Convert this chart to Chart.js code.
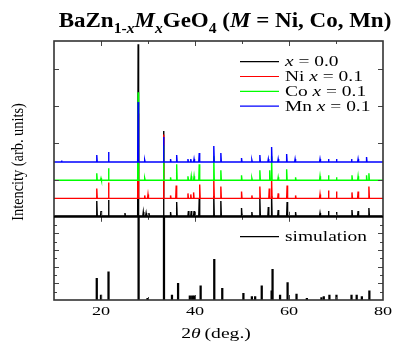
<!DOCTYPE html>
<html>
<head>
<meta charset="utf-8">
<script src="https://cdn.jsdelivr.net/npm/chart.js@4"></script>
<style>
  html, body { margin: 0; padding: 0; background: #fff; }
  #wrap { width: 393px; height: 342px; }
</style>
</head>
<body>
<div id="wrap"><canvas id="chart" width="393" height="342"></canvas></div>
<script>
// peaks: [2θ (deg.), height above the trace's own baseline], arb. units
const peaksBlack = [
  [19.1, 15], [20.0, 5], [21.6, 16], [25.1, 3], [27.9, 172], [29.0, 4], [29.6, 3], [30.2, 3],
  [33.3, 85], [34.8, 4], [36.1, 14], [38.6, 5], [39.2, 5], [39.8, 5], [40.9, 17], [44.0, 20],
  [45.5, 15], [49.9, 8], [52.1, 4], [53.8, 17], [55.6, 9], [56.3, 20], [57.7, 6], [59.6, 14],
  [61.4, 4], [66.6, 3], [68.4, 5], [70.1, 4], [73.4, 6], [74.7, 5], [77.0, 8]
];
const peaksNi = [
  [19.1, 10], [21.6, 16], [27.9, 85], [29.3, 3], [30.0, 4], [33.3, 64], [34.8, 3], [36.0, 13],
  [38.5, 5], [39.1, 4], [39.7, 6], [41.0, 14], [44.0, 19], [45.5, 12], [49.9, 7], [52.1, 3],
  [53.8, 12], [55.8, 10], [56.3, 19], [57.7, 5], [59.6, 13], [61.4, 3], [66.6, 4], [68.4, 8],
  [70.1, 7], [73.4, 6], [74.7, 7], [77.0, 12]
];
const peaksCo = [
  [19.1, 7], [20.0, 2], [21.6, 12], [27.9, 88], [29.3, 2], [33.3, 35], [34.8, 3], [36.1, 16],
  [38.5, 4], [39.2, 4], [39.8, 4], [40.9, 16], [44.0, 24], [45.5, 10], [49.9, 5], [52.1, 2],
  [53.8, 10], [55.9, 10], [56.3, 24], [57.7, 3], [59.5, 11], [61.4, 3], [66.6, 4], [68.4, 5],
  [70.1, 3], [73.4, 5], [74.7, 4], [76.5, 5], [77.0, 7]
];
const peaksMn = [
  [11.6, 1.5], [19.1, 7], [21.6, 10], [27.9, 60], [29.3, 2], [33.3, 25], [34.8, 3], [36.1, 7],
  [38.5, 3], [39.1, 3], [39.8, 3], [40.9, 9], [44.0, 16], [45.5, 9], [49.9, 4], [52.1, 2],
  [53.8, 7], [55.6, 3], [56.3, 15], [57.7, 3], [59.5, 8], [61.3, 3], [66.6, 3], [68.4, 3],
  [70.1, 3], [73.3, 3], [74.7, 3], [76.5, 5]
];
// vertical offsets of the stacked patterns
const baseBlack = 0.8, baseNi = 18.4, baseCo = 36.6, baseMn = 54.8;

// simulated pattern (sticks), intensity 0..100 panel
const simPos = [19.1, 20.0, 21.6, 28.0, 29.9, 33.4, 35.1, 36.4, 38.9, 39.4, 39.8, 41.2, 44.1, 45.8,
  50.3, 52.1, 52.8, 54.2, 56.3, 56.5, 58.1, 59.7, 61.6, 63.8, 66.9, 67.4, 68.6, 70.1, 73.3, 74.4, 75.5, 77.1];
const simInt = [26, 6, 34, 200, 2, 200, 6, 20, 5, 5, 5, 17, 49, 14,
  8, 4, 4, 17, 11, 37, 6, 21, 7, 2, 3, 4, 6, 6, 6, 6, 4, 11];

const xLabels = [20, 40, 60, 80];
const xMinor = [20, 30, 40, 50, 60, 70];
const topTicks = [37, 74, 111, 148];
const simTicks = [10, 20, 30, 40, 50, 60, 70, 80, 90];

const legendRows = [
  { color: '#000000', segs: [['x', 1], [' = 0.0']] },
  { color: '#ff0000', segs: [['Ni '], ['x', 1], [' = 0.1']] },
  { color: '#00ff00', segs: [['Co '], ['x', 1], [' = 0.1']] },
  { color: '#0000ff', segs: [['Mn '], ['x', 1], [' = 0.1']] }
];

const serif = "'Liberation Serif', 'Times New Roman', serif";

function trace(peaks, base) {
  const pts = [{ x: 10, y: base }];
  peaks.forEach(([p, h]) => {
    pts.push({ x: p - 0.1, y: base }, { x: p, y: base + h }, { x: p + 0.1, y: base });
  });
  pts.push({ x: 80, y: base });
  return pts;
}

function font(size, italic, bold) {
  return (italic ? 'italic ' : '') + (bold ? 'bold ' : '') + size + 'px ' + serif;
}

// draws text pieces [text, italic, subscript], stretched horizontally by sx
function drawRich(ctx, segs, x, y, size, sx, align, bold) {
  ctx.save();
  let w = 0;
  const parts = segs.map(([t, it, sub]) => {
    const fs = sub ? size * 0.68 : size;
    const f = font(fs, it, bold);
    ctx.font = f;
    const pw = ctx.measureText(t).width;
    w += pw;
    return { t, f, pw, dy: sub ? size * 0.28 : 0 };
  });
  const x0 = align === 'center' ? x - w * sx / 2 : x;
  ctx.translate(x0, y);
  ctx.scale(sx, 1);
  ctx.textAlign = 'left';
  ctx.textBaseline = 'alphabetic';
  ctx.fillStyle = '#000';
  let cx = 0;
  parts.forEach(p => { ctx.font = p.f; ctx.fillText(p.t, cx, p.dy); cx += p.pw; });
  ctx.restore();
}

const decor = {
  id: 'decor',
  afterDraw(chart) {
    const { ctx, chartArea: a, scales: { x, y, y2 } } = chart;
    ctx.save();

    // inward ticks
    ctx.strokeStyle = '#444';
    ctx.lineWidth = 1;
    ctx.beginPath();
    xMinor.forEach(v => {
      const px = Math.round(x.getPixelForValue(v)) + 0.5;
      const len = v % 20 === 0 ? 5 : 3;
      ctx.moveTo(px, y.top); ctx.lineTo(px, y.top + len);
      ctx.moveTo(px, y.bottom); ctx.lineTo(px, y.bottom - len);
      ctx.moveTo(px, y2.top); ctx.lineTo(px, y2.top + len);
      ctx.moveTo(px, y2.bottom); ctx.lineTo(px, y2.bottom - len);
    });
    topTicks.forEach(v => {
      const py = Math.round(y.getPixelForValue(v)) + 0.5;
      ctx.moveTo(a.left, py); ctx.lineTo(a.left + 5, py);
      ctx.moveTo(a.right, py); ctx.lineTo(a.right - 5, py);
    });
    simTicks.forEach(v => {
      const py = Math.round(y2.getPixelForValue(v)) + 0.5;
      const len = v % 20 === 0 ? 5 : 3;
      ctx.moveTo(a.left, py); ctx.lineTo(a.left + len, py);
      ctx.moveTo(a.right, py); ctx.lineTo(a.right - len, py);
    });
    ctx.stroke();

    // frame and panel divider
    ctx.strokeStyle = '#333';
    ctx.lineWidth = 1.6;
    ctx.strokeRect(a.left, a.top, a.right - a.left, a.bottom - a.top);
    ctx.strokeStyle = '#000';
    ctx.lineWidth = 2;
    ctx.beginPath();
    ctx.moveTo(a.left, y2.top); ctx.lineTo(a.right, y2.top);
    ctx.stroke();

    // legends
    legendRows.forEach((r, i) => {
      const ly = 61.7 + i * 14.8;
      ctx.strokeStyle = r.color;
      ctx.lineWidth = 1.2;
      ctx.beginPath();
      ctx.moveTo(240, ly); ctx.lineTo(279, ly);
      ctx.stroke();
      drawRich(ctx, r.segs, 285, ly + 4.6, 14.5, 1.34, 'left');
    });
    ctx.strokeStyle = '#000';
    ctx.lineWidth = 1.2;
    ctx.beginPath();
    ctx.moveTo(240, 236.7); ctx.lineTo(279, 236.7);
    ctx.stroke();
    drawRich(ctx, [['simulation']], 285, 241.3, 14.5, 1.34, 'left');

    // x tick labels and axis titles
    xLabels.forEach(v => drawRich(ctx, [[String(v)]], x.getPixelForValue(v), 314.5, 13, 1.4, 'center'));
    drawRich(ctx, [['2'], ['\u03b8', 1], ['\u2009(deg.)']], 216, 338, 14, 1.4, 'center');

    ctx.save();
    ctx.translate(22.5, 162);
    ctx.rotate(-Math.PI / 2);
    ctx.scale(0.82, 1);
    ctx.font = font(17.5);
    ctx.fillStyle = '#000';
    ctx.textAlign = 'center';
    ctx.textBaseline = 'alphabetic';
    ctx.fillText('Intencity (arb. units)', 0, 0);
    ctx.restore();

    // title
    drawRich(ctx,
      [['BaZn'], ['1-', 0, 1], ['x', 1, 1], ['M', 1], ['x', 1, 1], ['GeO'], ['4', 0, 1],
       [' ('], ['M', 1], [' = Ni, Co, Mn)']],
      225, 27.3, 20, 1.15, 'center', true);

    ctx.restore();
  }
};

const hiddenAxis = {
  grid: { display: false },
  border: { display: false },
  ticks: { display: false },
  afterFit: s => { s.width = 0; }
};

new Chart(document.getElementById('chart'), {
  type: 'line',
  data: {
    datasets: [
      { label: 'Mn x = 0.1', data: trace(peaksMn, baseMn), borderColor: '#0000ff', yAxisID: 'y', order: 0 },
      { label: 'Co x = 0.1', data: trace(peaksCo, baseCo), borderColor: '#00ff00', yAxisID: 'y', order: 1 },
      { label: 'Ni x = 0.1', data: trace(peaksNi, baseNi), borderColor: '#ff0000', yAxisID: 'y', order: 2 },
      { label: 'x = 0.0', data: trace(peaksBlack, baseBlack), borderColor: '#000000', yAxisID: 'y', order: 3 },
      {
        type: 'bar', label: 'simulation', yAxisID: 'y2', order: 4,
        data: simPos.map((p, i) => ({ x: p, y: simInt[i] })),
        backgroundColor: '#000000', barThickness: 1.6, grouped: false
      }
    ]
  },
  options: {
    responsive: false,
    animation: false,
    events: [],
    layout: { padding: { left: 54, right: 10, top: 41, bottom: 42 } },
    elements: {
      point: { radius: 0 },
      line: { borderWidth: 1.4, tension: 0 }
    },
    plugins: { legend: { display: false }, tooltip: { enabled: false } },
    scales: {
      x: {
        type: 'linear', min: 10, max: 80, offset: false,
        grid: { display: false, offset: false }, border: { display: false }, ticks: { display: false },
        afterFit: s => { s.height = 0; }
      },
      // left-side stacked axes are laid out in reverse order, so the lower panel comes first
      y2: Object.assign({ type: 'linear', min: 0, max: 100, stack: 'panels', stackWeight: 83.3, position: 'left' }, hiddenAxis),
      y: Object.assign({ type: 'linear', min: 0, max: 176, stack: 'panels', stackWeight: 176, position: 'left' }, hiddenAxis)
    }
  },
  plugins: [decor]
});
</script>
</body>
</html>
